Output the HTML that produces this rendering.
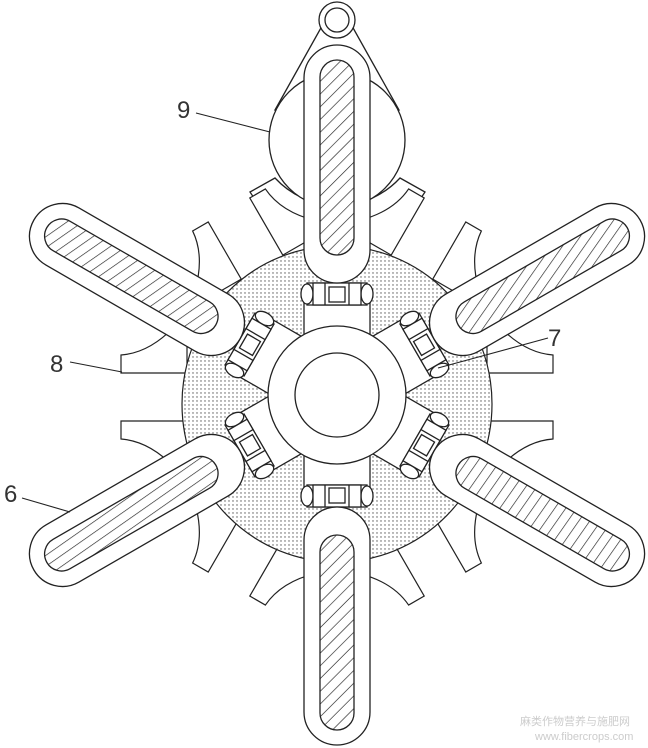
<!DOCTYPE html>
<html><head><meta charset="utf-8"><style>html,body{margin:0;padding:0;background:#fff}svg{display:block}</style></head>
<body>
<svg width="648" height="748" viewBox="0 0 648 748" xmlns="http://www.w3.org/2000/svg" font-family="Liberation Sans, sans-serif">
<defs>
<pattern id="dots" width="4" height="4" patternUnits="userSpaceOnUse"><rect width="4" height="4" fill="#fff"/><circle cx="1" cy="1" r="0.7" fill="#555"/></pattern>
<pattern id="h0" width="9" height="9" patternUnits="userSpaceOnUse" patternTransform="rotate(45)"><rect width="9" height="9" fill="#fff"/><line x1="0" y1="0" x2="0" y2="9" stroke="#222" stroke-width="1.3"/></pattern>
<pattern id="hm60" width="9" height="9" patternUnits="userSpaceOnUse" patternTransform="rotate(115)"><rect width="9" height="9" fill="#fff"/><line x1="0" y1="0" x2="0" y2="9" stroke="#222" stroke-width="1.3"/></pattern>
<pattern id="hp60" width="9" height="9" patternUnits="userSpaceOnUse" patternTransform="rotate(-25)"><rect width="9" height="9" fill="#fff"/><line x1="0" y1="0" x2="0" y2="9" stroke="#222" stroke-width="1.3"/></pattern>
<pattern id="hp120" width="9" height="9" patternUnits="userSpaceOnUse" patternTransform="rotate(-85)"><rect width="9" height="9" fill="#fff"/><line x1="0" y1="0" x2="0" y2="9" stroke="#222" stroke-width="1.3"/></pattern>
<pattern id="hm120" width="9" height="9" patternUnits="userSpaceOnUse" patternTransform="rotate(175)"><rect width="9" height="9" fill="#fff"/><line x1="0" y1="0" x2="0" y2="9" stroke="#222" stroke-width="1.3"/></pattern>
<g id="fin">
<path d="M150,24 L216,24 L216,42 Q188,44 163,70 L150,70 Z" fill="#fff" stroke="#222" stroke-width="1.2"/>
<path d="M150,-24 L216,-24 L216,-42 Q188,-44 163,-70 L150,-70 Z" fill="#fff" stroke="#222" stroke-width="1.2"/>
</g>
<g id="arm" stroke="#222" stroke-width="1.3">
<rect x="-33" y="-92" width="66" height="34" fill="#fff"/>
<rect x="-30" y="-112" width="60" height="22" fill="#fff"/>
<ellipse cx="-30" cy="-101" rx="6" ry="10" fill="#fff"/>
<ellipse cx="30" cy="-101" rx="6" ry="10" fill="#fff"/>
<rect x="-24" y="-112" width="48" height="22" fill="#fff"/>
<line x1="-12" y1="-112" x2="-12" y2="-90"/><line x1="12" y1="-112" x2="12" y2="-90"/>
<rect x="-8" y="-108" width="16" height="15" fill="#fff"/>
<rect x="-33" y="-350" width="66" height="238" rx="33" fill="#fff"/>
</g>
<rect id="slot" x="-17" y="-335" width="34" height="195" rx="17" stroke="#222" stroke-width="1.3"/>
</defs>

<g stroke="#222" stroke-width="1.3" fill="#fff">
<path d="M250,192 L275,178 A85,85 0 0 0 400,178 L425,192 L405,222 A110,110 0 0 1 270,222 Z"/>
<path d="M275,110 L322,26 A18,18 0 0 1 352,26 L399,110 Z"/>
<circle cx="337" cy="140" r="68"/>
<circle cx="337" cy="20" r="18"/>
<circle cx="337" cy="20" r="12"/>
</g>

<g transform="translate(337,397)">
<use href="#fin"/>
<use href="#fin" transform="rotate(60)"/>
<use href="#fin" transform="rotate(120)"/>
<use href="#fin" transform="rotate(180)"/>
<use href="#fin" transform="rotate(240)"/>
<use href="#fin" transform="rotate(300)"/>
</g>

<ellipse cx="337" cy="404" rx="155" ry="158" fill="url(#dots)" stroke="#222" stroke-width="1.2"/>

<g transform="translate(337,395)">
<use href="#arm"/><use href="#slot" fill="url(#h0)"/>
<g transform="rotate(180)"><use href="#arm"/><use href="#slot" fill="url(#h0)"/></g>
<g transform="rotate(-60)"><use href="#arm"/><use href="#slot" fill="url(#hm60)"/></g>
<g transform="rotate(60)"><use href="#arm"/><use href="#slot" fill="url(#hp60)"/></g>
<g transform="rotate(120)"><use href="#arm"/><use href="#slot" fill="url(#hp120)"/></g>
<g transform="rotate(-120)"><use href="#arm"/><use href="#slot" fill="url(#hm120)"/></g>
</g>

<circle cx="337" cy="395" r="69" fill="#fff" stroke="#222" stroke-width="1.3"/>
<circle cx="337" cy="395" r="42" fill="#fff" stroke="#222" stroke-width="1.3"/>

<g stroke="#222" stroke-width="1.1">
<line x1="196" y1="113" x2="270" y2="132"/>
<line x1="70" y1="362" x2="122" y2="372"/>
<line x1="548" y1="338" x2="438" y2="368"/>
<line x1="22" y1="498" x2="70" y2="512"/>
</g>
<g font-size="24" fill="#333">
<text x="177" y="118">9</text>
<text x="50" y="372">8</text>
<text x="548" y="346">7</text>
<text x="4" y="502">6</text>
</g>
<text x="520" y="725" font-size="11" fill="#ccc" font-family="Liberation Sans, Noto Sans CJK SC, sans-serif">麻类作物营养与施肥网</text>
<text x="535" y="740" font-size="11" fill="#ccc">www.fibercrops.com</text>
</svg>
</body></html>
